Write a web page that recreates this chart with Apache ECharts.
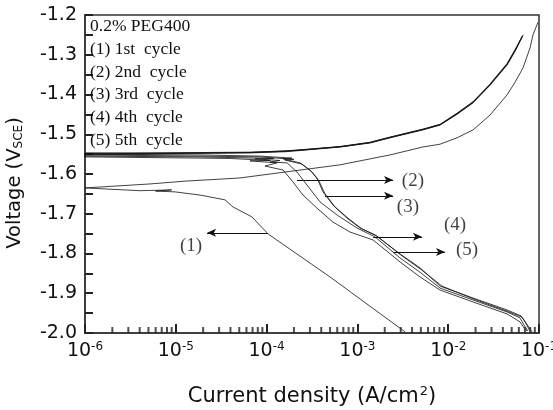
<!DOCTYPE html>
<html>
<head>
<meta charset="utf-8">
<script src="https://cdn.jsdelivr.net/npm/echarts@6/dist/echarts.min.js"></script>
<style>
  html, body { margin: 0; background: #fff; }
  #chart { width: 553px; height: 410px; }
</style>
</head>
<body>
<div id="chart"></div>
<script>
// current density (A/cm2) vs potential (V vs SCE)
const cycle1 = [
  [3.34e-3, -1.997], [4.99e-4, -1.859], [1.68e-4, -1.784], [1.04e-4, -1.751],
  [6.9e-5, -1.708], [4.27e-5, -1.683], [3.48e-5, -1.665], [1.85e-5, -1.653],
  [9.8e-6, -1.645], [6.0e-6, -1.643], [9.0e-6, -1.640], [4.04e-6, -1.642],
  [1e-6, -1.635], [5.2e-6, -1.625], [1.26e-5, -1.618], [5.09e-5, -1.610],
  [1.6e-4, -1.595], [6.43e-4, -1.577], [2.29e-3, -1.552], [5.27e-3, -1.532],
  [8.13e-3, -1.525], [1.25e-2, -1.509], [1.88e-2, -1.489], [2.88e-2, -1.452],
  [4.45e-2, -1.401], [5.45e-2, -1.369], [6.67e-2, -1.333], [7.96e-2, -1.283],
  [8.59e-2, -1.250], [9.75e-2, -1.218]
];

const cycle2Cathodic = [
  [7.38e-2, -1.995], [6.84e-2, -1.987], [6.18e-2, -1.972], [4.45e-2, -1.952],
  [1.88e-2, -1.922], [8.13e-3, -1.892], [4.89e-3, -1.859], [2.94e-3, -1.821],
  [1.49e-3, -1.766], [8.3e-4, -1.746], [5.38e-4, -1.721], [3.59e-4, -1.686],
  [2.52e-4, -1.653], [1.95e-4, -1.620], [1.52e-4, -1.590], [9.6e-5, -1.580],
  [1.3e-4, -1.572], [6.56e-5, -1.567], [1.1e-4, -1.566], [4.0e-5, -1.561],
  [1.85e-5, -1.560], [1e-6, -1.557]
];
const cycle2Anodic = [
  [1e-6, -1.548], [1.85e-5, -1.548], [6.56e-5, -1.547], [1.6e-4, -1.544],
  [2.33e-4, -1.541], [6.43e-4, -1.532], [1.38e-3, -1.522], [2.29e-3, -1.509],
  [5.27e-3, -1.489], [8.13e-3, -1.477], [1.25e-2, -1.450], [1.88e-2, -1.421],
  [2.88e-2, -1.377], [4.45e-2, -1.326], [5.45e-2, -1.291], [6.6e-2, -1.253]
];

const cycle3Cathodic = [
  [7.57e-2, -1.995], [6.84e-2, -1.980], [6.18e-2, -1.962], [4.45e-2, -1.947],
  [1.88e-2, -1.917], [8.13e-3, -1.887], [4.89e-3, -1.847], [2.94e-3, -1.811],
  [1.56e-3, -1.758], [9.9e-4, -1.736], [5.96e-4, -1.703], [3.87e-4, -1.670],
  [2.79e-4, -1.628], [2.16e-4, -1.595], [1.68e-4, -1.572], [1.09e-4, -1.570],
  [1.4e-4, -1.566], [7.45e-5, -1.562], [1.2e-4, -1.561], [1.85e-5, -1.557],
  [1e-6, -1.555]
];
const cycle3Anodic = [
  [1e-6, -1.547], [1.85e-5, -1.547], [6.56e-5, -1.546], [1.6e-4, -1.543],
  [2.33e-4, -1.540], [6.43e-4, -1.531], [1.38e-3, -1.521], [2.29e-3, -1.508],
  [5.27e-3, -1.488], [8.13e-3, -1.476], [1.25e-2, -1.449], [1.88e-2, -1.420],
  [2.88e-2, -1.375], [4.45e-2, -1.324], [5.45e-2, -1.289], [6.5e-2, -1.255]
];

const cycle4Cathodic = [
  [7.96e-2, -1.995], [7.02e-2, -1.972], [6.34e-2, -1.957], [4.45e-2, -1.942],
  [1.88e-2, -1.912], [8.13e-3, -1.882], [4.89e-3, -1.836], [2.94e-3, -1.801],
  [1.56e-3, -1.753], [1.07e-3, -1.736], [7.67e-4, -1.711], [5.38e-4, -1.678],
  [4.18e-4, -1.645], [3.59e-4, -1.610], [3.01e-4, -1.590], [2.33e-4, -1.572],
  [1.52e-4, -1.562], [1.9e-4, -1.560], [8.45e-5, -1.555], [1.85e-5, -1.552],
  [1e-6, -1.550]
];
const cycle4Anodic = [
  [1e-6, -1.546], [1.85e-5, -1.546], [6.56e-5, -1.545], [1.6e-4, -1.542],
  [2.33e-4, -1.539], [6.43e-4, -1.531], [1.38e-3, -1.520], [2.29e-3, -1.507],
  [5.27e-3, -1.487], [8.13e-3, -1.475], [1.25e-2, -1.447], [1.88e-2, -1.418],
  [2.88e-2, -1.374], [4.45e-2, -1.322], [5.45e-2, -1.287], [6.7e-2, -1.250]
];

const cycle5Cathodic = [
  [8.38e-2, -1.997], [7.2e-2, -1.975], [6.5e-2, -1.960], [4.45e-2, -1.945],
  [1.88e-2, -1.914], [8.55e-3, -1.882], [5.14e-3, -1.842], [3.1e-3, -1.806],
  [1.64e-3, -1.756], [1.12e-3, -1.738], [8.07e-4, -1.713], [5.66e-4, -1.683],
  [4.4e-4, -1.650], [3.78e-4, -1.618], [3.16e-4, -1.595], [2.45e-4, -1.575],
  [1.6e-4, -1.565], [2.0e-4, -1.563], [8.45e-5, -1.557], [1.85e-5, -1.555],
  [1e-6, -1.552]
];
const cycle5Anodic = [
  [1e-6, -1.547], [1.85e-5, -1.547], [6.56e-5, -1.546], [1.6e-4, -1.542],
  [2.33e-4, -1.540], [6.43e-4, -1.532], [1.38e-3, -1.521], [2.29e-3, -1.508],
  [5.27e-3, -1.488], [8.13e-3, -1.476], [1.25e-2, -1.448], [1.88e-2, -1.419],
  [2.88e-2, -1.376], [4.45e-2, -1.324], [5.45e-2, -1.290], [6.6e-2, -1.252]
];

// arrow labels: position of the label and the arrow (tail on curve -> head)
const labelNames = ["(1)", "(2)", "(3)", "(4)", "(5)"];
const labelPos = [
  [1.47e-5, -1.781], [4.09e-3, -1.618], [3.6e-3, -1.683], [1.19e-2, -1.728], [1.61e-2, -1.791]
];
const arrowFrom = [
  [1.04e-4, -1.748], [2.16e-4, -1.615], [4.4e-4, -1.655], [1.49e-3, -1.758], [2.47e-3, -1.796]
];
const arrowTo = [
  [2.21e-5, -1.748], [2.47e-3, -1.615], [2.47e-3, -1.655], [5.14e-3, -1.758], [9.23e-3, -1.796]
];

const legendLines = [
  "0.2% PEG400",
  "(1) 1st  cycle",
  "(2) 2nd  cycle",
  "(3) 3rd  cycle",
  "(4) 4th  cycle",
  "(5) 5th  cycle"
];

// minor ticks of the log axis: 2..9 in each decade
const minorTicks = [];
for (let e = -6; e < -1; e++) {
  for (let m = 2; m <= 9; m++) {
    minorTicks.push(m * Math.pow(10, e));
  }
}

const ink = "#111";
const sans = "DejaVu Sans";
const serif = "Liberation Serif";

function curve(name, data) {
  return {
    name: name,
    type: "line",
    data: data,
    showSymbol: false,
    smooth: false,
    lineStyle: { color: ink, width: 0.8 },
    z: 3
  };
}

let chart = echarts.init(document.getElementById("chart"), null, { renderer: "canvas" });

chart.setOption({
  animation: false,
  backgroundColor: "#fff",
  title: {
    text: legendLines.join("\n"),
    left: 90,
    top: 15,
    padding: 0,
    textStyle: {
      fontFamily: serif,
      fontSize: 17.5,
      fontWeight: "normal",
      color: ink,
      lineHeight: 22.8
    }
  },
  grid: {
    left: 85,
    right: 14,
    top: 15,
    bottom: 77,
    containLabel: false,
    outerBoundsMode: "none",
    show: true,
    borderColor: "#333",
    borderWidth: 1.5
  },
  xAxis: {
    type: "log",
    logBase: 10,
    min: 1e-6,
    max: 1e-1,
    name: "{a|Current density (A/cm}{s|2}{a|)}",
    nameLocation: "middle",
    nameGap: 52,
    nameTextStyle: {
      rich: {
        a: { fontFamily: sans, fontSize: 21, color: ink },
        s: { fontFamily: sans, fontSize: 13, color: ink, verticalAlign: "top", padding: [0, 0, 10, 1] }
      }
    },
    axisLine: { show: true, lineStyle: { color: "#333", width: 1.5 } },
    axisTick: { show: true, inside: true, length: 9, lineStyle: { color: "#222", width: 2 } },
    splitLine: { show: false },
    axisLabel: {
      margin: 8,
      formatter: function (v) {
        const e = Math.round(Math.log10(v));
        return "{b|10}{s|" + e + "}";
      },
      rich: {
        b: { fontFamily: sans, fontSize: 19, color: ink },
        s: { fontFamily: sans, fontSize: 12, color: ink, verticalAlign: "top", padding: [0, 0, 8, 0] }
      }
    }
  },
  yAxis: {
    type: "value",
    min: -2.0,
    max: -1.2,
    interval: 0.05,
    name: "{a|Voltage (V}{s|SCE}{a|)}",
    nameLocation: "middle",
    nameGap: 60,
    nameRotate: 90,
    nameTextStyle: {
      padding: [0, 18, 0, 0],
      rich: {
        a: { fontFamily: sans, fontSize: 19.5, color: ink },
        s: { fontFamily: sans, fontSize: 12, color: ink, verticalAlign: "bottom", padding: [8, 0, 0, 0] }
      }
    },
    axisLine: { show: true, lineStyle: { color: "#333", width: 1.5 } },
    axisTick: { show: true, inside: true, length: 8, lineStyle: { color: "#222", width: 2 } },
    splitLine: { show: false },
    axisLabel: {
      margin: 8,
      fontFamily: sans,
      fontSize: 19,
      color: ink,
      formatter: function (v) {
        const r = Math.round(v * 100);
        return r % 10 === 0 ? v.toFixed(1) : "";
      }
    }
  },
  series: [
    curve("1st cycle", cycle1),
    curve("2nd cycle", cycle2Cathodic.concat(cycle2Anodic)),
    curve("3rd cycle", cycle3Cathodic.concat(cycle3Anodic)),
    curve("4th cycle", cycle4Cathodic.concat(cycle4Anodic)),
    curve("5th cycle", cycle5Cathodic.concat(cycle5Anodic)),
    {
      name: "labels",
      type: "scatter",
      symbolSize: 0,
      data: labelNames.map((n, i) => ({ name: n, value: labelPos[i] })),
      label: {
        show: true,
        position: "inside",
        formatter: "{b}",
        fontFamily: serif,
        fontSize: 19,
        color: ink
      },
      markLine: {
        silent: true,
        symbol: ["none", "arrow"],
        symbolSize: [6, 9],
        label: { show: false },
        lineStyle: { color: ink, width: 1, type: "solid" },
        data: arrowFrom.map((p, i) => [{ coord: p }, { coord: arrowTo[i] }])
      },
      z: 4
    },
    {
      // short inward ticks at 2..9 of each decade
      name: "minor ticks",
      type: "scatter",
      silent: true,
      clip: false,
      symbol: "rect",
      symbolSize: [2, 6],
      symbolOffset: [0, -3],
      itemStyle: { color: "#222" },
      data: minorTicks.map(v => [v, -2.0]),
      z: 5
    }
  ]
});
</script>
</body>
</html>
